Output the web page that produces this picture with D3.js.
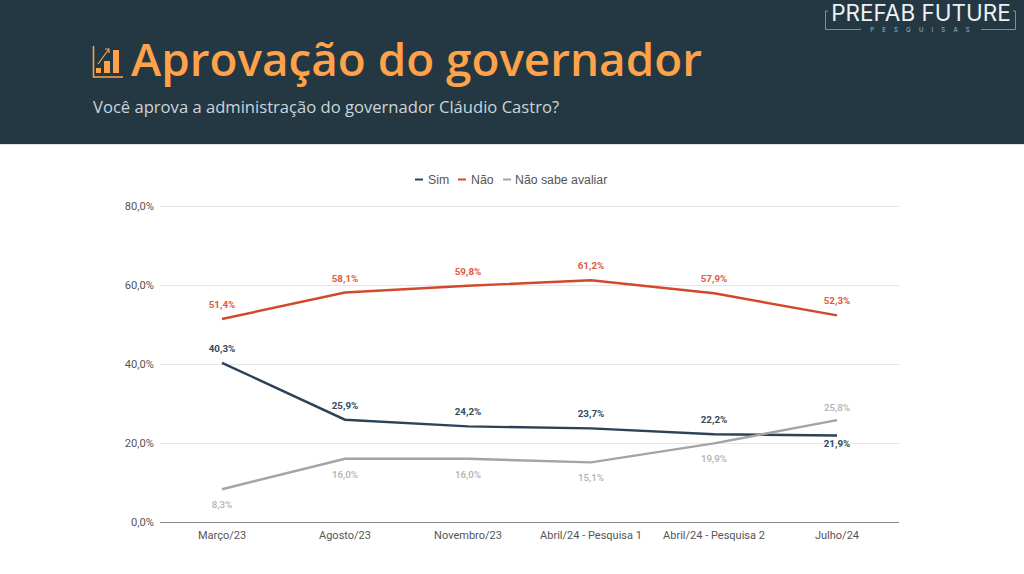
<!DOCTYPE html>
<html><head><meta charset="utf-8">
<script src="https://cdn.jsdelivr.net/npm/d3@7"></script>
<style>html,body{margin:0;padding:0;background:#fff;overflow:hidden}svg{display:block}</style>
</head><body><svg id="c" width="1024" height="574"></svg>
<script>
const categories=["Março/23","Agosto/23","Novembro/23","Abril/24 - Pesquisa 1","Abril/24 - Pesquisa 2","Julho/24"];
const sim=[40.3,25.9,24.2,23.7,22.2,21.9];
const nao=[51.4,58.1,59.8,61.2,57.9,52.3];
const naoSabe=[8.3,16.0,16.0,15.1,19.9,25.8];
const yTicks=[0,20,40,60,80];
const seriesNames=["Sim","Não","Não sabe avaliar"];
const seriesColors=["#2b4257","#d2492a","#a5a3a3"];
const labelColors=["#33495e","#e0593c","#b3b1b1"];
const labelDy=[[-11,-11,-11,-11,-11,12],[-11,-11,-11,-11,-11,-11],[19,19,19,19,19,-9]];

const svg=d3.select("#c");
const fmt=v=>v.toFixed(1).replace(".",",")+"%";
svg.append("rect").attr("width",1024).attr("height",144).attr("fill","#243844");
svg.append("line").attr("x1",0).attr("x2",1024).attr("y1",144.5).attr("y2",144.5).attr("stroke","#dfe5e7");

// Header
svg.append("text").attr("x",131).attr("y",76).attr("font-family","Open Sans").attr("font-weight",600)
  .attr("font-size",45.8).attr("fill","#ffa24a").text("Aprovação do governador");
svg.append("text").attr("x",93).attr("y",113).attr("font-family","Open Sans")
  .attr("font-size",16.6).attr("fill","#ccd5da").text("Você aprova a administração do governador Cláudio Castro?");
const ic=svg.append("g").attr("stroke","#ffa24a").attr("fill","none");
ic.append("path").attr("d","M93.5 46V77H123").attr("stroke-width",1.5);
ic.append("path").attr("d","M98 64L109 49M105 49H109V53").attr("stroke-width",1.2);
[[96,68,5,4],[104,61,6,11],[113,50,6,22]].forEach(r=>svg.append("rect")
  .attr("x",r[0]).attr("y",r[1]).attr("width",r[2]).attr("height",r[3]+1).attr("fill","#ffa24a"));

// Logo
svg.append("text").attr("x",921).attr("y",21).attr("text-anchor","middle").attr("font-family","Inter")
  .attr("font-weight",400).attr("font-size",22.5).attr("fill","#eef1f2").text("PREFAB FUTURE");
svg.append("text").attr("x",924).attr("y",32).attr("text-anchor","middle").attr("font-family","Inter")
  .attr("font-size",6).attr("letter-spacing",8.2).attr("fill","#aeb8be").text("PESQUISAS");
svg.append("path").attr("fill","none").attr("stroke","#9aa6ad").attr("stroke-width",0.8)
  .attr("d","M828 11H825.5V29.5H861M981 29.5H1015.5V11H1013");

// Chart
const x=d3.scalePoint().domain(categories).range([222,837]);
const y=d3.scaleLinear().domain([0,80]).range([522,206]);
const gy=svg.append("g").attr("transform","translate(160,0)").call(
  d3.axisLeft(y).tickValues(yTicks).tickSize(0).tickPadding(6).tickFormat(d=>d.toFixed(1).replace(".",",")+"%"));
gy.select(".domain").remove();
gy.selectAll("text").attr("font-family","Roboto").attr("font-size",11.2).attr("fill","#555");
svg.append("g").selectAll("line").data(yTicks.filter(d=>d>0)).join("line")
  .attr("x1",160).attr("x2",899).attr("y1",d=>y(d)+.5).attr("y2",d=>y(d)+.5).attr("stroke","#e6e6e6");
svg.append("line").attr("x1",160).attr("x2",899).attr("y1",522.5).attr("y2",522.5).attr("stroke","#8a8a8a");
svg.append("g").selectAll("text").data(categories).join("text")
  .attr("x",d=>x(d)).attr("y",539).attr("text-anchor","middle").attr("font-family","Roboto")
  .attr("font-size",11).attr("fill","#555").text(d=>d);

const line=d3.line().x((d,i)=>x(categories[i])).y(d=>y(d));
[sim,nao,naoSabe].forEach((s,k)=>{
  svg.append("path").datum(s).attr("d",line).attr("fill","none").attr("stroke",seriesColors[k]).attr("stroke-width",2.4);
  svg.append("g").selectAll("text").data(s).join("text")
    .attr("x",(d,i)=>x(categories[i])).attr("y",(d,i)=>y(d)+labelDy[k][i])
    .attr("text-anchor","middle").attr("font-family","Roboto").attr("font-weight",k==2?500:700)
    .attr("font-size",9.8).attr("fill",labelColors[k]).text(fmt);
});

// Legend
const lx=[415,458,503], tx=[428,471,515];
seriesNames.forEach((n,i)=>{
  svg.append("line").attr("x1",lx[i]).attr("x2",lx[i]+8).attr("y1",179.5).attr("y2",179.5)
    .attr("stroke",seriesColors[i]).attr("stroke-width",2);
  svg.append("text").attr("x",tx[i]).attr("y",183.5).attr("font-family","Liberation Sans")
    .attr("font-size",12.3).attr("fill","#555").text(n);
});
</script></body></html>
